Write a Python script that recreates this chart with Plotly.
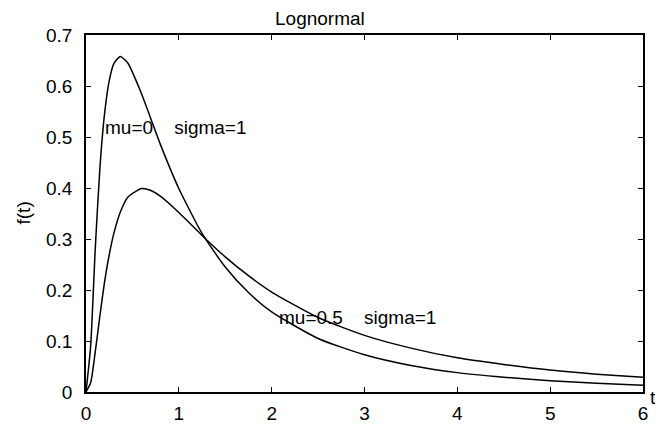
import plotly.graph_objects as go

# Values
t_vals = [0, 0.05, 0.1, 0.15, 0.2, 0.25, 0.3, 0.37, 0.45, 0.6, 0.7, 0.8, 1.0,
          1.25, 1.5, 1.75, 2.0, 2.5, 3.0, 3.5, 4.0, 4.5, 5.0, 5.5, 6.0]
f_mu0 = [0, 0.090, 0.282, 0.440, 0.546, 0.610, 0.644, 0.658, 0.645, 0.584, 0.535,
         0.486, 0.399, 0.311, 0.245, 0.195, 0.157, 0.105, 0.073, 0.052, 0.038,
         0.029, 0.022, 0.017, 0.013]
f_mu05 = [0, 0.018, 0.079, 0.150, 0.216, 0.269, 0.311, 0.353, 0.382, 0.399, 0.395,
          0.384, 0.352, 0.307, 0.265, 0.228, 0.196, 0.146, 0.111, 0.086, 0.067,
          0.054, 0.043, 0.035, 0.029]
x_ticks = [0, 1, 2, 3, 4, 5, 6]
y_ticks = [0, 0.1, 0.2, 0.3, 0.4, 0.5, 0.6, 0.7]
title_text = "Lognormal"
label_mu0 = "mu=0\u00a0\u00a0\u00a0\u00a0sigma=1"
label_mu05 = "mu=0.5\u00a0\u00a0\u00a0\u00a0sigma=1"

FONT = "Liberation Sans, Arial, Helvetica, sans-serif"
FS = 19

# page body has an 8px default margin; compensate so the plot lands where the reference has it
OFF = 8
W, H = 663 - OFF, 426 - OFF
PX0, PX1, PY0, PY1 = 86 - OFF, 643 - OFF, 35 - OFF, 392 - OFF
L, R, T, B = PX0, W - PX1, PY0, H - PY1
PW, PH = PX1 - PX0, PY1 - PY0

fig = go.Figure()
fig.add_trace(go.Scatter(x=t_vals, y=f_mu0, mode="lines",
                         line=dict(color="black", width=1.5, shape="spline", smoothing=0.6),
                         showlegend=False, hoverinfo="skip"))
fig.add_trace(go.Scatter(x=t_vals, y=f_mu05, mode="lines",
                         line=dict(color="black", width=1.5, shape="spline", smoothing=0.6),
                         showlegend=False, hoverinfo="skip"))

axis_common = dict(showline=True, linecolor="black", linewidth=1.5, mirror="ticks",
                   ticks="inside", ticklen=5, tickwidth=1.2, tickcolor="black",
                   showgrid=False, zeroline=False, automargin=False,
                   tickfont=dict(family=FONT, size=FS, color="black"))

fig.update_layout(
    width=W, height=H,
    margin=dict(l=L, r=R, t=T, b=B, pad=0, autoexpand=False),
    paper_bgcolor="white", plot_bgcolor="white",
    xaxis=dict(range=[0, 6], tickvals=x_ticks, ticktext=[str(v) for v in x_ticks],
               ticklabelstandoff=3, **axis_common),
    yaxis=dict(range=[0, 0.7], tickvals=y_ticks, ticktext=[("%g" % v) for v in y_ticks],
               ticklabelstandoff=8, **axis_common),
    font=dict(family=FONT, size=FS, color="black"),
    annotations=[
        dict(text=title_text, xref="paper", yref="paper", x=(320 - 86) / PW, y=1 + (35 - 19) / PH,
             xanchor="center", yanchor="middle", showarrow=False,
             font=dict(family=FONT, size=FS, color="black")),
        dict(text="f(t)", xref="paper", yref="paper", x=(23 - 86) / PW, y=0.5, textangle=-90,
             xanchor="center", yanchor="middle", showarrow=False,
             font=dict(family=FONT, size=FS, color="black")),
        dict(text="t", xref="paper", yref="paper", x=(648 - 86) / PW, y=(392 - 397) / PH,
             xanchor="left", yanchor="middle", showarrow=False,
             font=dict(family=FONT, size=FS, color="black")),
        dict(text=label_mu0, xref="x", yref="y", x=0.18, y=0.518,
             xanchor="left", yanchor="middle", showarrow=False,
             font=dict(family=FONT, size=FS, color="black")),
        dict(text=label_mu05, xref="x", yref="y", x=2.06, y=0.147,
             xanchor="left", yanchor="middle", showarrow=False,
             font=dict(family=FONT, size=FS, color="black")),
    ],
)

fig.write_html("out.html")
